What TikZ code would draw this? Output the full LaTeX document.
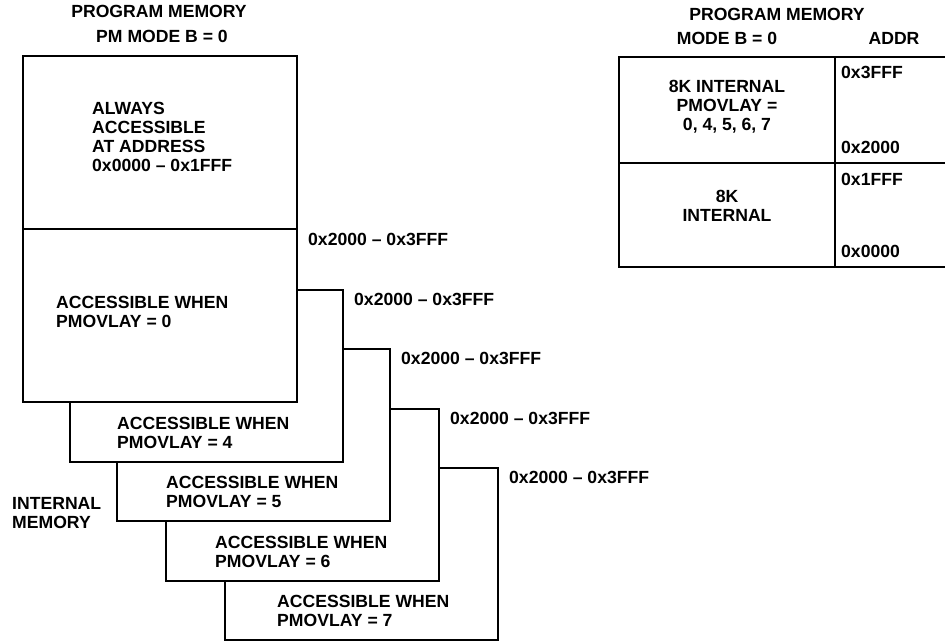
\documentclass[tikz,border=0pt]{standalone}
\usepackage{fontspec}
\setmainfont{Liberation Sans}
\usetikzlibrary{positioning}
\tikzset{
  mem/.style={draw=black,line width=2pt,fill=white},
  txt/.style={font=\bfseries\fontsize{17.6}{19}\selectfont,inner sep=0pt,align=left,anchor=base west},
  ctxt/.style={txt,align=center,anchor=base},
  hdr/.style={font=\bfseries\fontsize{17.6}{19}\selectfont,inner sep=0pt,anchor=base},
}
\begin{document}
\begin{tikzpicture}[x=1pt,y=-1pt]
\useasboundingbox (0,0) rectangle (945,642);
% headers
\node[hdr] (pmtitle) at (159,18) {PROGRAM MEMORY};
\node[hdr] (pmmode) at (162,43) {PM MODE B = 0};
\node[hdr] (rtitle) at (777,21) {PROGRAM MEMORY};
\node[hdr] (rmode) at (727,45) {MODE B = 0};
\node[hdr] (raddr) at (894,45) {ADDR};
% overlay pages, back to front (text sits on its last baseline)
\foreach \k/\x/\y/\tx in {7/225/468/277,6/166/409/215,5/117/349/166,4/70/290/117}{
  \draw[mem] (\x,\y) rectangle ++(273,172);
  \node[txt] (ov\k) at (\tx,\y+158) {ACCESSIBLE WHEN\\PMOVLAY = \k};
  \node[txt] (ad\k) at (\x+284,\y+15) {0x2000 -- 0x3FFF};
}
% main page
\draw[mem] (23,56) rectangle (297,402);
\draw[mem] (23,229) -- (297,229);
\node[txt] (always) at (92,171) {ALWAYS\\ACCESSIBLE\\AT ADDRESS\\0x0000 -- 0x1FFF};
\node[txt] (ov0) at (56,327) {ACCESSIBLE WHEN\\PMOVLAY = 0};
\node[txt] (ad0) at (308,245) {0x2000 -- 0x3FFF};
\node[txt] (intmem) at (12,528) {INTERNAL\\MEMORY};
% memory map
\draw[mem] (619,57) rectangle (948,267);
\draw[mem] (835,57) -- (835,267);
\draw[mem] (619,163) -- (948,163);
\node[ctxt] (upper) at (727,130) {8K INTERNAL\\PMOVLAY =\\0, 4, 5, 6, 7};
\node[ctxt] (lower) at (727,221) {8K\\INTERNAL};
\node[txt] (a3fff) at (841,78) {0x3FFF};
\node[txt] (a2000) at (841,153) {0x2000};
\node[txt] (a1fff) at (841,185) {0x1FFF};
\node[txt] (a0000) at (841,257) {0x0000};
\end{tikzpicture}
\end{document}
